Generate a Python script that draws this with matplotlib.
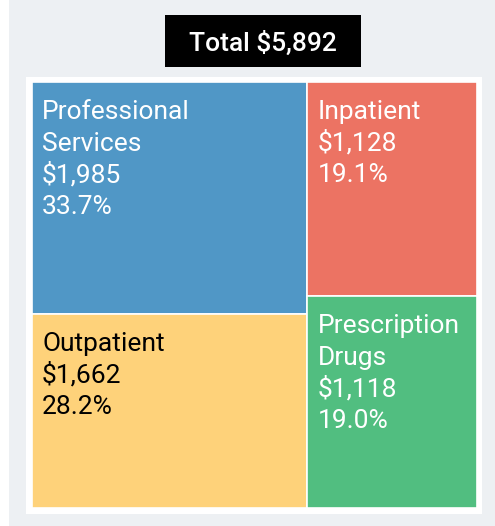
import matplotlib
matplotlib.use("Agg")
import matplotlib.pyplot as plt
from matplotlib.patches import Rectangle

# data
labels = ["Professional\nServices", "Outpatient", "Inpatient", "Prescription\nDrugs"]
values = [1985, 1662, 1128, 1118]
total = 5892  # as shown in the source (parts are rounded)
columns = [[0, 1], [2, 3]]  # which items stack in each column
colors = ["#5097c6", "#fed27a", "#ec7363", "#51be80"]
text_colors = ["white", "black", "white", "white"]

W, H = 495, 526
fig = plt.figure(figsize=(W / 100, H / 100), dpi=100)
fig.patch.set_facecolor("white")
ax = fig.add_axes([0, 0, 1, 1])
ax.set_xlim(0, W)
ax.set_ylim(H, 0)
ax.axis("off")

# panel + white frame
ax.add_patch(Rectangle((9, 0), W - 9, 526, facecolor="#edf0f3", edgecolor="none"))
ax.add_patch(Rectangle((26, 77), 456, 437, facecolor="white", edgecolor="none"))

# title box
ax.add_patch(Rectangle((165, 15), 196, 52, facecolor="black", edgecolor="none"))
ax.text(263, 41, f"Total ${total:,}", color="white", fontsize=19, family="Roboto",
        fontweight="medium", ha="center", va="center_baseline")

# treemap area
x0, y0, x1, y1 = 32, 82, 477, 508
grand = sum(values)
cx = x0
for col in columns:
    col_sum = sum(values[i] for i in col)
    cw = (x1 - x0) * col_sum / grand
    cy = y0
    for i in col:
        ch = (y1 - y0) * values[i] / col_sum
        ax.add_patch(Rectangle((cx, cy), cw, ch, facecolor=colors[i],
                               edgecolor="white", linewidth=1.2))
        lines = labels[i].split("\n") + [f"${values[i]:,}", f"{values[i] / total * 100:.1f}%"]
        for k, line in enumerate(lines):
            ax.text(cx + 10, cy + 37 + k * 31.7, line, color=text_colors[i], fontsize=19,
                    family="Roboto", ha="left", va="baseline")
        cy += ch
    cx += cw

plt.savefig("out.png", dpi=100, facecolor=fig.get_facecolor())
